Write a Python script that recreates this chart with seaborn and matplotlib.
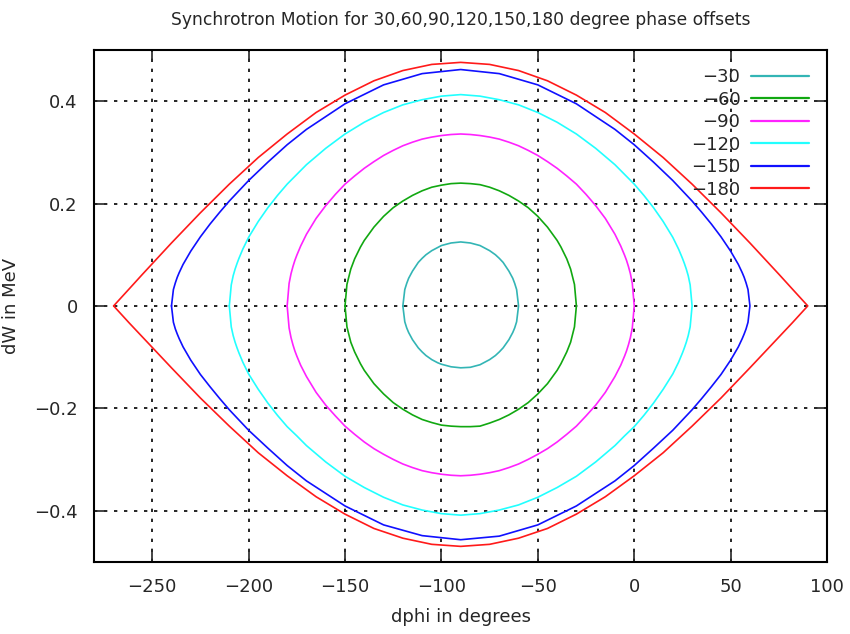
import numpy as np
import pandas as pd
import matplotlib
matplotlib.use("Agg")
import matplotlib.pyplot as plt
import seaborn as sns

# ---- data ----
labels = ["-30", "-60", "-90", "-120", "-150", "-180"]
colors = ["#33b5b5", "#11a811", "#ff22ff", "#22ffff", "#1010ff", "#ff1a1a"]

phi_30 = [-120, -119, -118, -117, -115, -112, -110, -108, -105, -102, -100, -95, -90,
          -85, -80, -78, -75, -72, -70, -68, -65, -63, -62, -61, -60]
up_30 = [0, 0.032, 0.044, 0.054, 0.068, 0.085, 0.093, 0.100, 0.108, 0.114, 0.118, 0.123, 0.125,
         0.123, 0.118, 0.114, 0.108, 0.100, 0.093, 0.085, 0.068, 0.054, 0.044, 0.032, 0]
lo_30 = [0, -0.031, -0.043, -0.052, -0.066, -0.082, -0.090, -0.097, -0.105, -0.111, -0.114, -0.119, -0.121,
         -0.120, -0.115, -0.111, -0.105, -0.097, -0.090, -0.082, -0.066, -0.052, -0.043, -0.031, 0]

phi_60 = [-150, -149, -147, -145, -142, -140, -135, -130, -125, -120, -115, -110, -105, -100, -95, -90,
          -85, -80, -75, -70, -65, -60, -55, -50, -45, -40, -38, -35, -33, -31, -30]
up_60 = [0, 0.042, 0.072, 0.092, 0.115, 0.128, 0.154, 0.175, 0.192, 0.205, 0.216, 0.225, 0.232, 0.236, 0.239, 0.240,
         0.239, 0.237, 0.232, 0.225, 0.216, 0.205, 0.192, 0.175, 0.154, 0.128, 0.115, 0.092, 0.072, 0.042, 0]
lo_60 = [0, -0.041, -0.071, -0.090, -0.113, -0.126, -0.152, -0.172, -0.189, -0.202, -0.213, -0.222, -0.228, -0.233, -0.235, -0.236,
         -0.236, -0.235, -0.229, -0.222, -0.213, -0.202, -0.189, -0.172, -0.152, -0.126, -0.113, -0.090, -0.071, -0.041, 0]

phi_90 = [-180, -179, -178, -177, -176, -175, -173, -170, -165, -160, -155, -150, -145, -140, -135, -130,
          -125, -120, -115, -110, -105, -100, -95, -90, -85, -80, -75, -70, -65, -60, -55, -50, -45, -40,
          -35, -30, -25, -20, -15, -10, -7, -5, -4, -3, -2, -1, 0]
up_90 = [0, 0.044, 0.063, 0.077, 0.089, 0.099, 0.117, 0.140, 0.171, 0.196, 0.218, 0.238, 0.254, 0.269, 0.282, 0.294,
         0.304, 0.313, 0.320, 0.326, 0.330, 0.333, 0.335, 0.336, 0.335, 0.333, 0.330, 0.326, 0.320, 0.313, 0.304, 0.294,
         0.282, 0.269, 0.254, 0.238, 0.218, 0.196, 0.171, 0.140, 0.117, 0.099, 0.089, 0.077, 0.063, 0.044, 0]
lo_90 = [0, -0.043, -0.062, -0.076, -0.088, -0.098, -0.116, -0.138, -0.169, -0.194, -0.215, -0.235, -0.251, -0.266, -0.279, -0.290,
         -0.300, -0.309, -0.316, -0.322, -0.326, -0.329, -0.331, -0.332, -0.331, -0.329, -0.326, -0.322, -0.316, -0.309, -0.300, -0.290,
         -0.279, -0.266, -0.251, -0.235, -0.215, -0.194, -0.169, -0.138, -0.116, -0.098, -0.088, -0.076, -0.062, -0.043, 0]

phi_120 = [-210, -209, -208, -207, -206, -205, -203, -200, -195, -190, -185, -180, -175, -170, -160, -150,
           -140, -130, -120, -110, -100, -90, -80, -70, -60, -50, -40, -30, -20, -10, -5, 0, 5, 10, 15, 20,
           23, 25, 26, 27, 28, 29, 30]
up_120 = [0, 0.041, 0.059, 0.072, 0.083, 0.093, 0.111, 0.134, 0.165, 0.192, 0.216, 0.238, 0.257, 0.276, 0.308, 0.336,
          0.359, 0.378, 0.393, 0.403, 0.410, 0.413, 0.410, 0.403, 0.393, 0.378, 0.359, 0.336, 0.308, 0.276, 0.257, 0.238,
          0.216, 0.192, 0.165, 0.134, 0.111, 0.093, 0.083, 0.072, 0.059, 0.041, 0]
lo_120 = [0, -0.041, -0.058, -0.071, -0.082, -0.092, -0.110, -0.133, -0.163, -0.190, -0.214, -0.236, -0.254, -0.273, -0.305, -0.333,
          -0.355, -0.374, -0.389, -0.399, -0.406, -0.409, -0.406, -0.399, -0.389, -0.374, -0.355, -0.333, -0.305, -0.273, -0.254, -0.236,
          -0.214, -0.190, -0.163, -0.133, -0.110, -0.092, -0.082, -0.071, -0.058, -0.041, 0]

phi_150 = [-240, -239, -238, -237, -236, -234, -232, -230, -225, -220, -215, -210, -200, -190, -180, -170,
           -150, -130, -110, -90, -70, -50, -30, -10, 0, 10, 20, 30, 35, 40, 45, 50, 52, 54, 56, 57, 58, 59, 60]
up_150 = [0, 0.032, 0.045, 0.056, 0.065, 0.081, 0.094, 0.107, 0.135, 0.160, 0.183, 0.205, 0.245, 0.281, 0.315, 0.345,
          0.395, 0.432, 0.454, 0.462, 0.454, 0.432, 0.395, 0.345, 0.315, 0.281, 0.245, 0.205, 0.183, 0.160, 0.135, 0.107,
          0.094, 0.081, 0.065, 0.056, 0.045, 0.032, 0]
lo_150 = [0, -0.032, -0.045, -0.055, -0.064, -0.080, -0.093, -0.106, -0.134, -0.158, -0.181, -0.203, -0.243, -0.278, -0.312, -0.342,
          -0.391, -0.428, -0.449, -0.457, -0.450, -0.428, -0.391, -0.342, -0.312, -0.278, -0.243, -0.203, -0.181, -0.158, -0.134, -0.106,
          -0.093, -0.080, -0.064, -0.055, -0.045, -0.032, 0]

phi_180 = [-270, -262, -255, -240, -225, -210, -195, -180, -165, -150, -135, -120, -105, -90,
           -75, -60, -45, -30, -15, 0, 15, 30, 45, 60, 75, 82, 90]
up_180 = [0, 0.033, 0.062, 0.123, 0.182, 0.238, 0.290, 0.336, 0.378, 0.412, 0.440, 0.460, 0.472, 0.476,
          0.472, 0.460, 0.440, 0.412, 0.378, 0.336, 0.290, 0.238, 0.182, 0.123, 0.062, 0.033, 0]
lo_180 = [0, -0.033, -0.061, -0.121, -0.180, -0.235, -0.287, -0.332, -0.373, -0.407, -0.435, -0.454, -0.466, -0.470,
          -0.466, -0.454, -0.435, -0.407, -0.373, -0.332, -0.287, -0.235, -0.180, -0.121, -0.061, -0.033, 0]

curves = [(phi_30, up_30, lo_30), (phi_60, up_60, lo_60), (phi_90, up_90, lo_90),
          (phi_120, up_120, lo_120), (phi_150, up_150, lo_150), (phi_180, up_180, lo_180)]

xticks = [-250, -200, -150, -100, -50, 0, 50, 100]
yticks = [-0.4, -0.2, 0, 0.2, 0.4]

# ---- build long table (closed loops) ----
rows = []
for lab, (ph, up, lo) in zip(labels, curves):
    n = min(len(ph), len(up), len(lo))
    ph, up, lo = ph[:n], up[:n], lo[:n]
    xs = list(ph) + list(ph[::-1])
    ys = list(up) + list(lo[::-1])
    for i, (x, y) in enumerate(zip(xs, ys)):
        rows.append({"dphi": x, "dW": y, "offset": lab, "order": i})
df = pd.DataFrame(rows)

sns.set_style("ticks")
plt.rcParams["font.family"] = ["DejaVu Sans"]

fig = plt.figure(figsize=(8.5, 6.34), dpi=100)
ax = fig.add_axes([0.111, 0.114, 0.862, 0.807])

sns.lineplot(data=df, x="dphi", y="dW", hue="offset", hue_order=labels,
             palette=colors, sort=False, estimator=None, linewidth=1.2, ax=ax)

ax.set_xlim(-280, 100)
ax.set_ylim(-0.5, 0.5)
ax.set_xticks(xticks)
ax.set_xticklabels([str(t).replace("-", "\u2212") for t in xticks])
ax.set_yticks(yticks)
ax.set_yticklabels(["\u22120.4", "\u22120.2", "0", "0.2", "0.4"])
ax.grid(True, color="black", linestyle=(0, (2, 4)), linewidth=1.2)
ax.set_axisbelow(True)
ax.tick_params(direction="in", length=7, width=1.2, top=True, right=True,
               labelsize=13, pad=12)
for s in ax.spines.values():
    s.set_linewidth(1.5)
    s.set_color("black")

ax.set_xlabel("dphi in degrees", fontsize=13, labelpad=8)
ax.set_ylabel("dW in MeV", fontsize=13, labelpad=10)
ax.set_title("Synchrotron Motion for 30,60,90,120,150,180 degree phase offsets",
             fontsize=12.3, pad=18)

leg = ax.legend(loc="upper right", frameon=False, markerfirst=False, fontsize=13,
                handlelength=3.2, labelspacing=0.25, borderaxespad=0.6,
                handletextpad=0.6)
for t in leg.get_texts():
    t.set_text(t.get_text().replace("-", "\u2212"))
for line in leg.get_lines():
    line.set_linewidth(1.6)

fig.savefig("out.png", dpi=100, facecolor="white")
